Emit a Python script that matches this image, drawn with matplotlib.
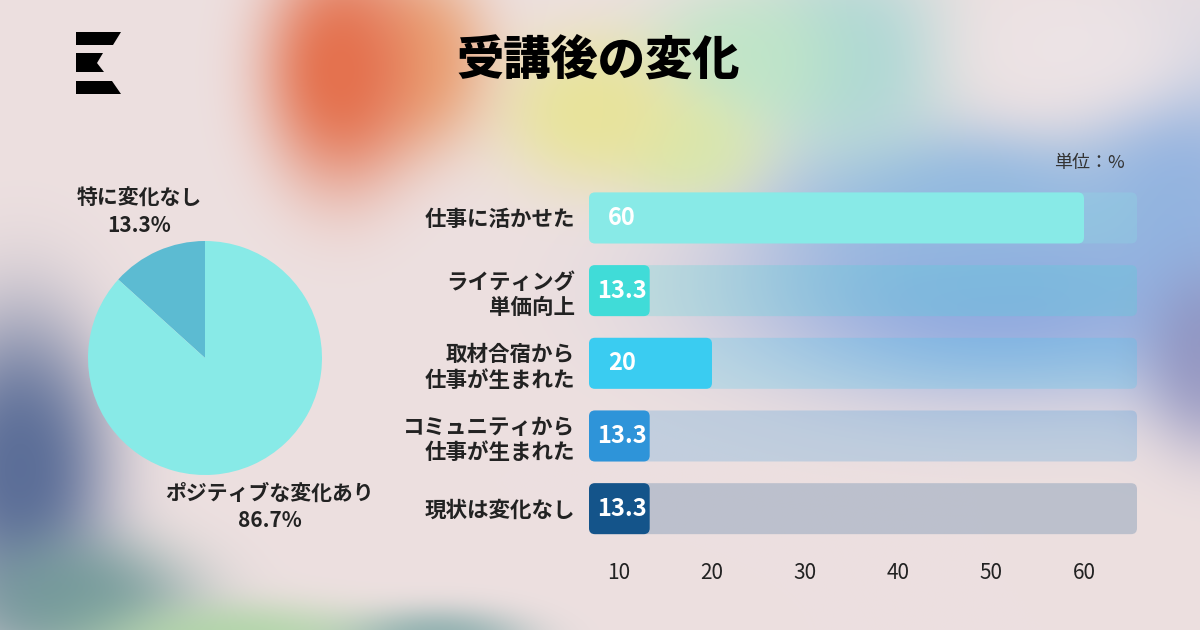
import matplotlib
matplotlib.use('Agg')
import matplotlib.pyplot as plt
import matplotlib.colors as mcolors
import numpy as np
from matplotlib.patches import FancyBboxPatch, Polygon

plt.rcParams['font.family'] = ['Noto Sans CJK JP', 'DejaVu Sans']

# --- data ---
title = '受講後の変化'
pie_labels = ['特に変化なし', 'ポジティブな変化あり']
pie_values = [13.3, 86.7]
pie_colors = ['#5cbbd2', '#88eae7']

categories = ['仕事に活かせた', 'ライティング\n単価向上', '取材合宿から\n仕事が生まれた',
              'コミュニティから\n仕事が生まれた', '現状は変化なし']
values = [60, 13.3, 20, 13.3, 13.3]
value_labels = ['60', '13.3', '20', '13.3', '13.3']
bar_colors = ['#88eae7', '#40dcd8', '#3accf1', '#2e94d9', '#14548a']
xticks = [10, 20, 30, 40, 50, 60]
unit_label = '単位：%'

W, H = 1200, 630

# --- blurred background ---
yy, xx = np.mgrid[0:H, 0:W]
img = np.ones((H, W, 3)) * np.array([237, 224, 224]) / 255.0
blobs = [
    # cx, cy, sx, sy, colour, strength
    (1000, 290, 210, 85, '#8ca8e0', 0.95),
    (1180, 200, 80, 120, '#8fb0e0', 0.9),
    (1210, 360, 50, 70, '#8888b8', 0.7),
    (960, 200, 150, 60, '#8fb8e0', 0.9),
    (850, 60, 80, 80, '#a4d6d4', 0.85),
    (740, 60, 80, 60, '#bde6c6', 0.85),
    (690, 150, 60, 45, '#d6e8a8', 0.8),
    (590, 110, 75, 60, '#e8e496', 0.9),
    (420, 60, 55, 70, '#eaa070', 0.9),
    (340, 70, 60, 90, '#e4724f', 1.0),
    (1090, 50, 100, 55, '#ede4e6', 0.9),
    (20, 470, 70, 120, '#506592', 0.92),
    (80, 600, 90, 50, '#6e9896', 0.85),
    (240, 640, 110, 30, '#acd4a4', 0.85),
    (440, 640, 70, 25, '#7aa4a4', 0.75),
]
for cx, cy, sx, sy, col, amp in blobs:
    d2 = ((xx - cx) / sx) ** 2 + ((yy - cy) / sy) ** 2
    w = (amp * np.exp(-0.5 * d2 ** 1.3))[..., None]
    img = img * (1 - w) + np.array(mcolors.to_rgb(col)) * w

fig = plt.figure(figsize=(12, 6.3), dpi=100)
bg = fig.add_axes([0, 0, 1, 1])
bg.imshow(img, extent=[0, W, H, 0], aspect='auto', interpolation='bilinear')
bg.set_xlim(0, W)
bg.set_ylim(H, 0)
bg.axis('off')

# logo
for pts in ([(76, 32), (121, 32), (113, 45), (76, 45)],
            [(76, 53), (103, 53), (97, 63), (104, 72), (76, 72)],
            [(76, 81), (112, 81), (121, 94), (76, 94)]):
    bg.add_patch(Polygon(pts, closed=True, color='black', lw=0))

bg.text(598, 60, title, ha='center', va='center', fontsize=34,
        fontweight='black', color='black')
bg.text(1125, 163, unit_label, ha='right', va='center', fontsize=13, color='#333333')

# --- pie ---
pie_cx, pie_cy, pie_r, box = 205, 358, 117, 135
axp = fig.add_axes([(pie_cx - box) / W, (H - pie_cy - box) / H, 2 * box / W, 2 * box / H])
axp.pie(pie_values, colors=pie_colors, startangle=90, counterclock=True,
        radius=pie_r / box, wedgeprops=dict(linewidth=0))
axp.set_xlim(-1, 1)
axp.set_ylim(-1, 1)
axp.axis('off')
label_pos = [(139, 212), (270, 507)]
for lab, val, (px, py) in zip(pie_labels, pie_values, label_pos):
    axp.text((px - pie_cx) / box, (pie_cy - py) / box, f'{lab}\n{val}%',
             ha='center', va='center', fontsize=15, fontweight='bold',
             color='#222222', linespacing=1.4)

# --- bars ---
x0px, x1px, top_px, bot_px = 589, 1137, 181.6, 545
zero_px, px_per = 526, 9.3
xmin, xmax = (x0px - zero_px) / px_per, (x1px - zero_px) / px_per
ax = fig.add_axes([x0px / W, (H - bot_px) / H, (x1px - x0px) / W, (bot_px - top_px) / H])
ax.patch.set_alpha(0)
ax.set_xlim(xmin, xmax)
ax.set_ylim(len(values) - 0.5, -0.5)

row_px = (bot_px - top_px) / len(values)
bar_h = 51 / row_px
rad = 6 / px_per
asp = px_per / row_px
for i, (v, c) in enumerate(zip(values, bar_colors)):
    ax.add_patch(FancyBboxPatch((xmin, i - bar_h / 2), xmax - xmin, bar_h,
                                boxstyle=f'round,pad=0,rounding_size={rad}',
                                mutation_aspect=asp, fc=c, alpha=0.22, lw=0))
    ax.add_patch(FancyBboxPatch((xmin, i - bar_h / 2), v - xmin, bar_h,
                                boxstyle=f'round,pad=0,rounding_size={rad}',
                                mutation_aspect=asp, fc=c, lw=0))
    ax.annotate(value_labels[i], (xmin, i), xytext=(33 * 0.72, 0),
                textcoords='offset points', ha='center', va='center',
                color='white', fontweight='bold', fontsize=17)

ax.set_yticks(range(len(categories)), categories, fontsize=15.5, fontweight='bold',
              color='#222222', linespacing=1.25)
ax.set_xticks(xticks, [str(t) for t in xticks], fontsize=15, color='#222222')
ax.tick_params(axis='y', length=0, pad=10)
ax.tick_params(axis='x', length=0, pad=12)
for s in ax.spines.values():
    s.set_visible(False)

fig.savefig('out.png', dpi=100)
